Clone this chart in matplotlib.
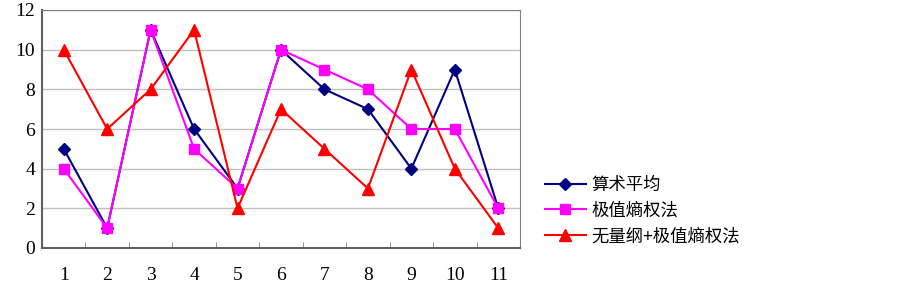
import matplotlib
matplotlib.use("Agg")
import matplotlib.pyplot as plt
import numpy as np

categories = ["1", "2", "3", "4", "5", "6", "7", "8", "9", "10", "11"]
arith_mean = [5, 1, 11, 6, 3, 10, 8, 7, 4, 9, 2]
entropy_ext = [4, 1, 11, 5, 3, 10, 9, 8, 6, 6, 2]
dimless_entropy = [10, 6, 8, 11, 2, 7, 5, 3, 9, 4, 1]
series_names = ["算术平均", "极值熵权法", "无量纲+极值熵权法"]
y_ticks = [0, 2, 4, 6, 8, 10, 12]

W, H = 903, 285
fig = plt.figure(figsize=(W / 100, H / 100), dpi=100)
ax = fig.add_axes([42 / W, 1 - 248 / H, (520 - 42) / W, (248 - 10) / H])

x = np.arange(1, len(categories) + 1)
l1, = ax.plot(x, arith_mean, color="#000080", lw=1.5, marker="D", ms=6.5,
              markerfacecolor="#000080", markeredgecolor="#000080")
l2, = ax.plot(x, entropy_ext, color="#FF00FF", lw=1.5, marker="s", ms=7,
              markerfacecolor="#FF00FF", markeredgecolor="#FF00FF")
l3, = ax.plot(x, dimless_entropy, color="#FF0000", lw=1.5, marker="^", ms=8.5,
              markerfacecolor="#FF0000", markeredgecolor="#FF0000")

ax.set_xlim(0.5, len(categories) + 0.5)
ax.set_ylim(0, 12)
ax.set_yticks(y_ticks)
ax.set_yticklabels([str(v) for v in y_ticks])
ax.set_xticks(x)
ax.set_xticklabels(categories)
ax.set_xticks(np.arange(0.5, len(categories) + 1, 1), minor=True)
ax.tick_params(axis="x", which="major", length=0, pad=14)
ax.tick_params(axis="x", which="minor", length=4, direction="in", color="#808080")
ax.tick_params(axis="y", length=0, pad=5)
for lab in ax.get_xticklabels() + ax.get_yticklabels():
    lab.set_family("Liberation Serif")
    lab.set_fontsize(14)

ax.grid(axis="y", color="#C0C0C0", lw=1)
ax.set_axisbelow(True)
for s in ["top", "right"]:
    ax.spines[s].set_color("#808080")
for s in ["left", "bottom"]:
    ax.spines[s].set_color("#606060")
    ax.spines[s].set_linewidth(1.5)

leg = fig.legend([l1, l2, l3], series_names, loc="upper left",
                 bbox_to_anchor=(529 / W, 1 - 160 / H), frameon=False,
                 prop={"family": ["Noto Sans CJK SC", "DejaVu Sans"], "size": 12.5},
                 handlelength=2.4, handletextpad=0.3, labelspacing=0.45)

fig.savefig("out.png", dpi=100)
